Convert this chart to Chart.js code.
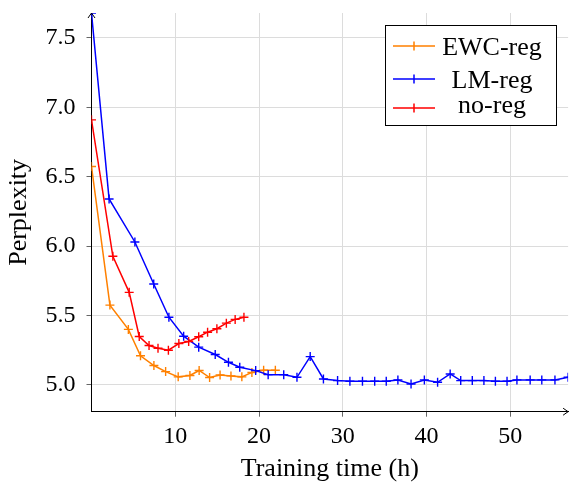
<!DOCTYPE html>
<html>
<head>
<meta charset="utf-8">
<script src="https://cdn.jsdelivr.net/npm/chart.js@4/dist/chart.umd.min.js"></script>
<style>
  html, body { margin: 0; padding: 0; background: #fff; }
  #wrap { width: 574px; height: 485px; }
</style>
</head>
<body>
<div id="wrap"><canvas id="chart" width="574" height="485"></canvas></div>
<script>
const seriesNames = ["EWC-reg", "LM-reg", "no-reg"];

const ewcX = [0, 2.2, 4.4, 5.85, 7.45, 8.85, 10.35, 11.75, 12.85, 14.1, 15.35, 16.65, 17.95, 19.15, 20.55, 21.95];
const ewcY = [6.574, 5.575, 5.40, 5.21, 5.14, 5.096, 5.058, 5.068, 5.104, 5.053, 5.072, 5.065, 5.058, 5.09, 5.106, 5.106];

const lmX = [0, 2.1, 5.18, 7.43, 9.24, 11.0, 12.8, 14.77, 16.35, 17.7, 19.6, 21.09, 22.95, 24.53, 26.11, 27.69,
  29.38, 30.85, 32.35, 33.81, 35.19, 36.58, 38.15, 39.74, 41.32, 42.82, 44.08, 45.46, 46.85, 48.22, 49.61,
  50.79, 52.37, 53.76, 55.33, 56.9];
const lmY = [7.68, 6.34, 6.03, 5.727, 5.488, 5.351, 5.272, 5.219, 5.163, 5.127, 5.103, 5.074, 5.074, 5.055, 5.204, 5.043,
  5.031, 5.026, 5.026, 5.026, 5.026, 5.036, 5.007, 5.036, 5.019, 5.079, 5.031, 5.031, 5.031, 5.026, 5.026,
  5.036, 5.036, 5.036, 5.036, 5.055];

const noregX = [0, 2.55, 4.5, 5.7, 6.87, 7.94, 9.18, 10.43, 11.6, 12.8, 13.86, 14.97, 16.1, 17.15, 18.2];
const noregY = [6.91, 5.927, 5.667, 5.349, 5.284, 5.264, 5.25, 5.298, 5.313, 5.347, 5.38, 5.405, 5.445, 5.472, 5.488];

const xTicks = [10, 20, 30, 40, 50];
const yTicks = [5.0, 5.5, 6.0, 6.5, 7.0, 7.5];

const colors = ["#ff8000", "#0000ff", "#ff0000"];
const serif = "'Liberation Serif', 'Times New Roman', serif";

function toPoints(xs, ys) {
  return xs.map((x, i) => ({ x: x, y: ys[i] }));
}

function makeSet(i, xs, ys, order) {
  return {
    label: seriesNames[i],
    data: toPoints(xs, ys),
    borderColor: colors[i],
    backgroundColor: colors[i],
    borderWidth: 1.5,
    pointStyle: "cross",
    pointRadius: 4.5,
    pointBorderWidth: 1.4,
    pointHoverRadius: 4.5,
    tension: 0,
    order: order
  };
}

// legend box drawn in the upper right like the original
const boxLegend = {
  id: "boxLegend",
  afterDraw(c) {
    const ctx = c.ctx;
    const rows = [46, 79, 108];
    const bases = [54.5, 88, 113];
    ctx.save();
    ctx.fillStyle = "#fff";
    ctx.fillRect(385, 25, 172, 101);
    ctx.strokeStyle = "#000";
    ctx.lineWidth = 1;
    ctx.strokeRect(385.5, 25.5, 171, 100);
    seriesNames.forEach((name, i) => {
      const y = rows[i];
      ctx.strokeStyle = colors[i];
      ctx.lineWidth = 1.5;
      ctx.beginPath();
      ctx.moveTo(393, y);
      ctx.lineTo(435, y);
      ctx.moveTo(414, y - 4.5);
      ctx.lineTo(414, y + 4.5);
      ctx.stroke();
      ctx.fillStyle = "#000";
      ctx.font = "26px " + serif;
      ctx.textAlign = "center";
      ctx.textBaseline = "alphabetic";
      ctx.fillText(name, 492, bases[i]);
    });
    ctx.restore();
  }
};

// arrow tips at the ends of both axes
const axisArrows = {
  id: "axisArrows",
  afterDraw(c) {
    const a = c.chartArea;
    const ctx = c.ctx;
    ctx.save();
    ctx.strokeStyle = "#000";
    ctx.lineWidth = 1;
    ctx.beginPath();
    ctx.moveTo(a.right - 5, a.bottom - 3.5);
    ctx.lineTo(a.right, a.bottom);
    ctx.lineTo(a.right - 5, a.bottom + 3.5);
    ctx.moveTo(a.left - 3.5, a.top + 5);
    ctx.lineTo(a.left, a.top);
    ctx.lineTo(a.left + 3.5, a.top + 5);
    ctx.stroke();
    ctx.restore();
  }
};

let chart;

function renderChart() {
  const ctx = document.getElementById("chart");
  if (chart) chart.destroy();

  chart = new Chart(ctx, {
    type: "line",
    data: {
      datasets: [
        makeSet(0, ewcX, ewcY, 3),
        makeSet(1, lmX, lmY, 2),
        makeSet(2, noregX, noregY, 1)
      ]
    },
    options: {
      responsive: false,
      animation: false,
      events: [],
      layout: { padding: { top: 13, right: 2.5, left: 0, bottom: 0 } },
      plugins: {
        legend: { display: false },
        tooltip: { enabled: false }
      },
      scales: {
        x: {
          type: "linear",
          min: 0,
          max: 56.9,
          afterBuildTicks: s => { s.ticks = xTicks.map(v => ({ value: v })); },
          afterFit: s => { s.height = 73.3; s.paddingLeft = 0; s.paddingRight = 0; },
          grid: { color: "#dcdcdc", tickLength: 5, tickColor: "#666" },
          border: { color: "#000", width: 1 },
          ticks: { color: "#000", font: { family: serif, size: 24 }, padding: 6, maxRotation: 0 },
          title: {
            display: true,
            text: "Training time (h)",
            color: "#000",
            font: { family: serif, size: 26 },
            padding: { top: 0, bottom: 0 }
          }
        },
        y: {
          min: 4.807,
          max: 7.68,
          afterBuildTicks: s => { s.ticks = yTicks.map(v => ({ value: v })); },
          afterFit: s => { s.width = 91.5; s.paddingTop = 0; s.paddingBottom = 0; },
          grid: { color: "#dcdcdc", tickLength: 5, tickColor: "#666" },
          border: { color: "#000", width: 1 },
          ticks: {
            color: "#000",
            font: { family: serif, size: 24 },
            padding: 11,
            callback: v => v.toFixed(1)
          },
          title: {
            display: true,
            text: "Perplexity",
            color: "#000",
            font: { family: serif, size: 26 },
            padding: { top: 4, bottom: 0 }
          }
        }
      }
    },
    plugins: [boxLegend, axisArrows]
  });
}

renderChart();
</script>
</body>
</html>
